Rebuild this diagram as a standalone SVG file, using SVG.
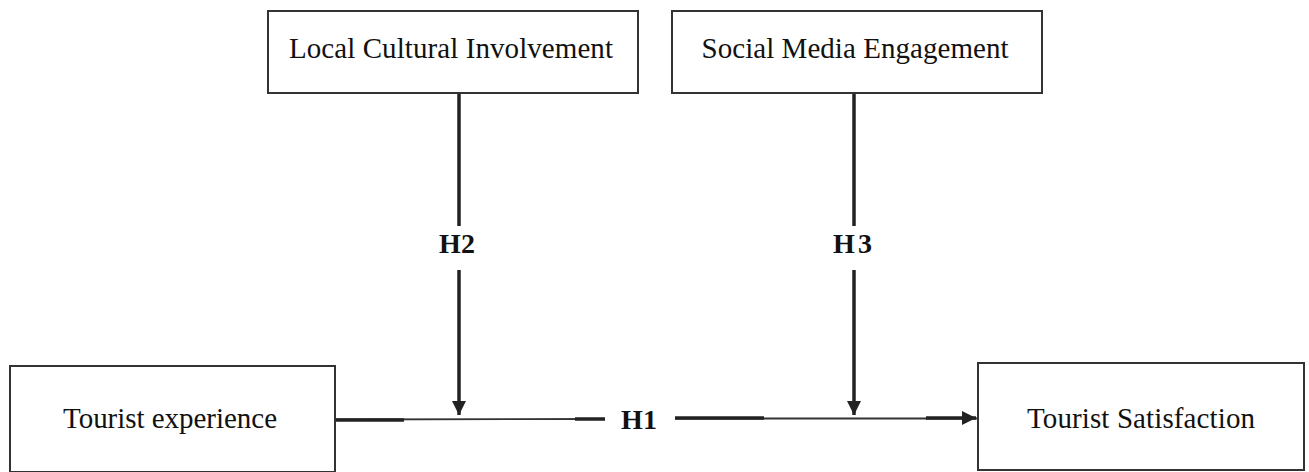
<svg xmlns="http://www.w3.org/2000/svg" width="1309" height="472" viewBox="0 0 1309 472">
<style>
.box{fill:#fff;stroke:#333;stroke-width:2}
.lbl{font-family:"Liberation Serif","Times New Roman",serif;font-size:29px;fill:#111}
.h{font-family:"Liberation Serif","Times New Roman",serif;font-size:28px;font-weight:bold;fill:#111}
.thick{stroke:#222;stroke-width:3.5;fill:none}
.thin{stroke:#333;stroke-width:1.8;fill:none}
</style>
<defs>
<marker id="ah" viewBox="0 0 10 10" refX="10" refY="5" markerWidth="4" markerHeight="4" orient="auto" markerUnits="strokeWidth">
<path d="M0,0 L10,5 L0,10 z" fill="#222"/>
</marker>
</defs>
<g id="connectors">
<line class="thin" x1="335" y1="419.5" x2="605" y2="419"/>
<line class="thin" x1="675" y1="418.5" x2="978" y2="418.5"/>
<line class="thick" x1="335" y1="420" x2="404" y2="420"/>
<line class="thick" x1="575" y1="419" x2="605" y2="419"/>
<line class="thick" x1="675" y1="418" x2="764" y2="418"/>
<line class="thick" x1="926" y1="418" x2="976" y2="418" marker-end="url(#ah)"/>
<line class="thick" x1="459" y1="93" x2="459" y2="226"/>
<line class="thick" x1="459" y1="270" x2="459" y2="415" marker-end="url(#ah)"/>
<line class="thick" x1="854" y1="93" x2="854" y2="226"/>
<line class="thick" x1="854" y1="270" x2="854" y2="415" marker-end="url(#ah)"/>
<text class="h" x="457" y="253" text-anchor="middle">H2</text>
<text class="h" x="854" y="253" text-anchor="middle" letter-spacing="3">H3</text>
<text class="h" x="639" y="429" text-anchor="middle">H1</text>
</g>
<g id="local-cultural-involvement">
<rect class="box" x="268" y="11" width="370" height="82"/>
<text class="lbl" x="451" y="58" text-anchor="middle" textLength="324">Local Cultural Involvement</text>
</g>
<g id="social-media-engagement">
<rect class="box" x="672" y="11" width="370" height="82"/>
<text class="lbl" x="855" y="58" text-anchor="middle" textLength="307">Social Media Engagement</text>
</g>
<g id="tourist-experience">
<rect class="box" x="10" y="366" width="325" height="106"/>
<text class="lbl" x="170" y="428" text-anchor="middle" textLength="214">Tourist experience</text>
</g>
<g id="tourist-satisfaction">
<rect class="box" x="978" y="363" width="326" height="107"/>
<text class="lbl" x="1141" y="428" text-anchor="middle" textLength="228">Tourist Satisfaction</text>
</g>
</svg>
